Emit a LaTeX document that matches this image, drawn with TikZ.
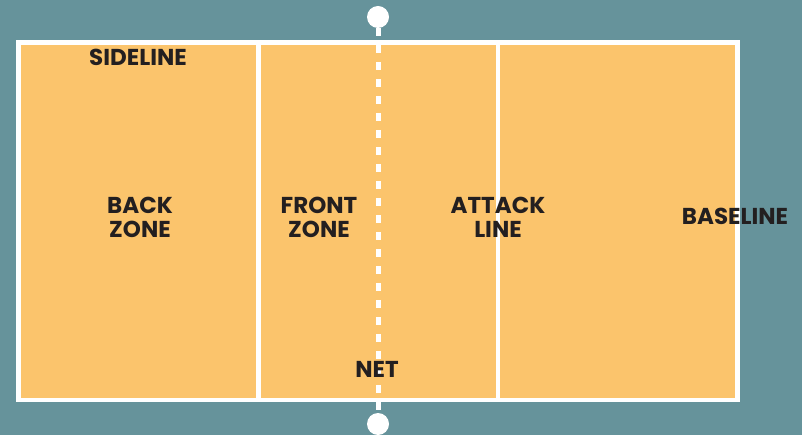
\documentclass[tikz,border=0pt]{standalone}
\usepackage{fontspec}
\setmainfont{Poppins}
\usetikzlibrary{positioning}
\definecolor{sea}   {HTML}{66939B}
\definecolor{sand}  {HTML}{FBC46C}
\definecolor{ink}   {HTML}{231F20}
\tikzset{
  % --- court
  court/.style  = {draw=white, fill=sand, line width=4.5pt},
  cline/.style  = {draw=white, line width=4.5pt},
  netline/.style= {draw=white, line width=5pt, dash pattern=on 8pt off 9pt},
  post/.style   = {circle, fill=white, minimum size=22pt, inner sep=0pt},
  % --- labels
  lbl/.style    = {font=\fontsize{23}{24}\selectfont\bfseries, text=ink,
                   align=center, inner sep=0pt},
}
\begin{document}
\begin{tikzpicture}[x=1pt,y=-1pt]
  \fill[sea] (0,0) rectangle (802,435);
  \useasboundingbox (0,0) rectangle (802,435);

  % court outline and zone lines
  \coordinate (nw) at (18.5,42.5);
  \coordinate (se) at (737.5,400);
  \draw[court] (nw) rectangle (se);
  \coordinate (a1) at (258.5,42.5);
  \coordinate (a2) at (258.5,400);
  \coordinate (b1) at (498,42.5);
  \coordinate (b2) at (498,400);
  \draw[cline] (a1) -- (a2);
  \draw[cline] (b1) -- (b2);

  % net
  \node[post] (nettop) at (378,17) {};
  \node[post] (netbot) at (378,424) {};
  \draw[netline] (nettop.south) -- (netbot.north);

  % labels
  \node[lbl] (side)   at (138,57)  {SIDELINE};
  \node[lbl] (back)   at (140,217) {BACK\\ZONE};
  \node[lbl] (front)  at (319,217) {FRONT\\ZONE};
  \node[lbl] (attack) at (498,217) {ATTACK\\LINE};
  \node[lbl] (base)   at (735,216) {BASELINE};
  \node[lbl] (net)    at (377,369) {NET};
\end{tikzpicture}
\end{document}
